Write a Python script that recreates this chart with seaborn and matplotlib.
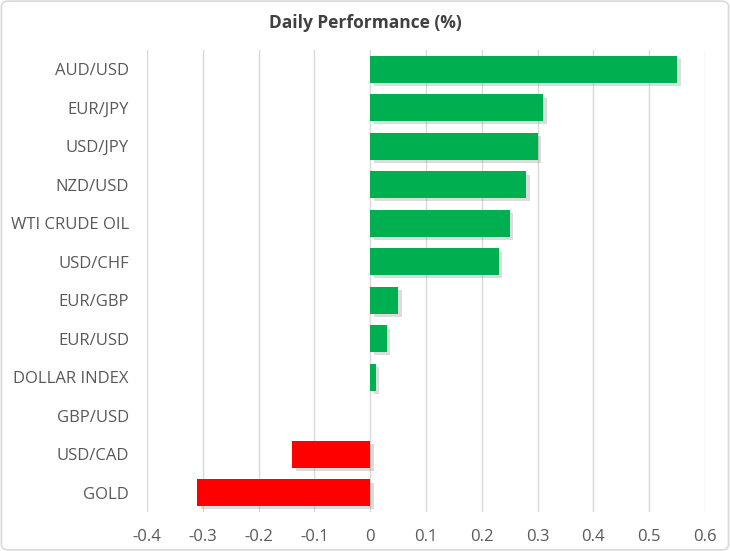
import pandas as pd
import numpy as np
import matplotlib.pyplot as plt
import matplotlib.patheffects as pe
from matplotlib.patches import FancyBboxPatch
import seaborn as sns

# ---------------- DATA ----------------
assets = ["AUD/USD", "EUR/JPY", "USD/JPY", "NZD/USD", "WTI CRUDE OIL", "USD/CHF",
          "EUR/GBP", "EUR/USD", "DOLLAR INDEX", "GBP/USD", "USD/CAD", "GOLD"]
perf = [0.55, 0.31, 0.30, 0.28, 0.25, 0.23, 0.05, 0.03, 0.01, 0.0, -0.14, -0.31]
x_ticks = [-0.4, -0.3, -0.2, -0.1, 0, 0.1, 0.2, 0.3, 0.4, 0.5, 0.6]

GREEN = "#00B050"
RED = "#FF0000"

df = pd.DataFrame({"asset": assets, "perf": perf})
df["sign"] = np.where(df["perf"] >= 0, "up", "down")

sns.set_theme(style="white")
plt.rcParams['font.family'] = ['Open Sans', 'DejaVu Sans']

fig = plt.figure(figsize=(7.30, 5.51), dpi=100)
ax = fig.add_axes([0.2014, 0.0708, 0.7644, 0.8385])

sns.barplot(data=df, y="asset", x="perf", hue="sign", order=assets,
            palette={"up": GREEN, "down": RED}, width=0.69, dodge=False,
            saturation=1, linewidth=0, legend=False, ax=ax, zorder=3)

# soft drop shadow like the original
for p in ax.patches:
    p.set_linewidth(0)
    p.set_path_effects([pe.SimplePatchShadow(offset=(2.5, -2.5), shadow_rgbFace="#8c8c8c", alpha=0.3),
                        pe.Normal()])

ax.set_xlim(-0.4, 0.6)
ax.set_xticks(x_ticks)
ax.set_xticklabels([f"{t:g}" for t in x_ticks])
ax.grid(axis="x", color="#d9d9d9", linewidth=1, zorder=0)
ax.set_axisbelow(True)
for s in ax.spines.values():
    s.set_visible(False)
ax.set_xlabel("")
ax.set_ylabel("")
ax.tick_params(axis="both", length=0, labelsize=12, labelcolor="#595959")
ax.tick_params(axis="x", pad=12)
ax.tick_params(axis="y", pad=13)

fig.text(0.5, 0.958, "Daily Performance (%)", ha="center", va="center",
         fontsize=12.5, fontweight="bold", color="#404040")

# light outer border
border = FancyBboxPatch((0.002, 0.002), 0.996, 0.996, boxstyle="round,pad=0,rounding_size=0.01",
                        transform=fig.transFigure, fill=False, edgecolor="#d9d9d9", linewidth=1.2)
fig.patches.append(border)

fig.savefig("out.png", dpi=100)
